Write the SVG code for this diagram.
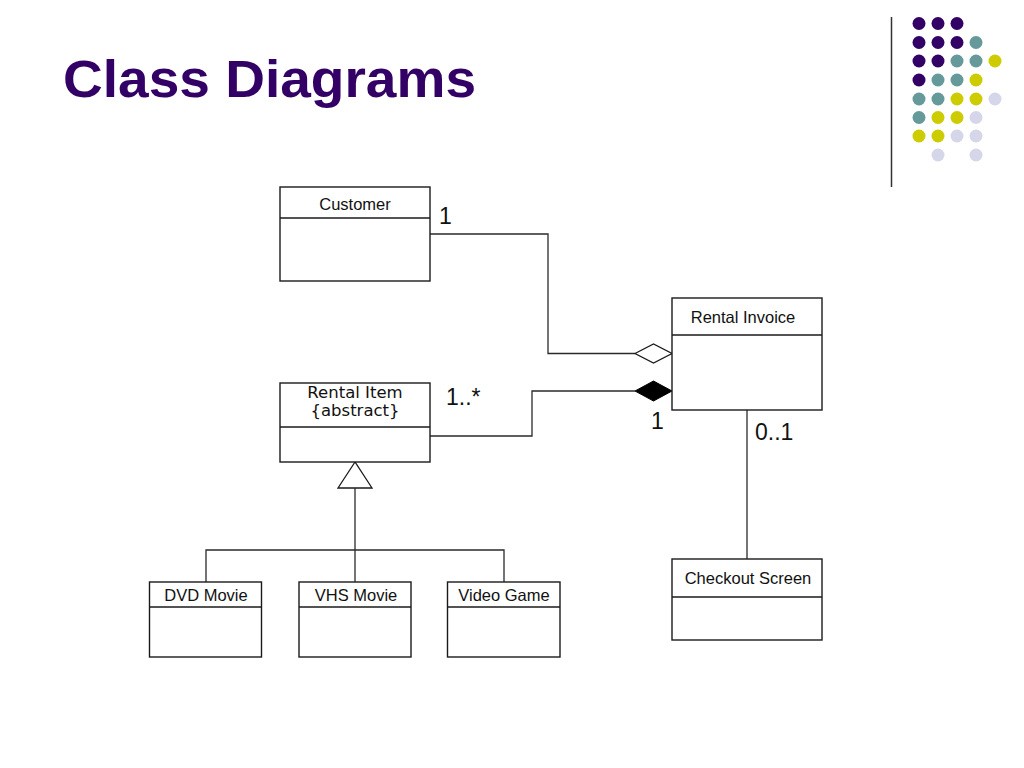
<svg xmlns="http://www.w3.org/2000/svg" width="1024" height="768" viewBox="0 0 1024 768">
<style>
.box{fill:#fff;stroke:#1a1a1a;stroke-width:1.4}
.div{stroke:#1a1a1a;stroke-width:1.4;fill:none}
.ln{stroke:#2a2a2a;stroke-width:1.3;fill:none}
.t{font-family:"Liberation Sans",Arial,sans-serif;font-size:16.5px;fill:#111;text-anchor:middle}
.v{font-family:"DejaVu Sans",Verdana,sans-serif;font-size:16.5px;fill:#111;text-anchor:middle}
.m{font-family:"Liberation Sans",Arial,sans-serif;font-size:23px;fill:#111}
.p{fill:#330066}.g{fill:#669999}.y{fill:#cccc00}.l{fill:#d6d6eb}
</style>
<rect width="1024" height="768" fill="#fff"/>
<text x="63" y="97" font-family="Liberation Sans,Arial,sans-serif" font-weight="bold" font-size="51" fill="#330066" textLength="413" lengthAdjust="spacingAndGlyphs">Class Diagrams</text>
<g id="decor">
<line x1="891.5" y1="17" x2="891.5" y2="187" stroke="#333" stroke-width="1.5"/>
<g>
<circle class="p" cx="919" cy="23.5" r="6.5"/><circle class="p" cx="938" cy="23.5" r="6.5"/><circle class="p" cx="957" cy="23.5" r="6.5"/>
<circle class="p" cx="919" cy="42.5" r="6.5"/><circle class="p" cx="938" cy="42.5" r="6.5"/><circle class="p" cx="957" cy="42.5" r="6.5"/><circle class="g" cx="976" cy="42.5" r="6.5"/>
<circle class="p" cx="919" cy="61" r="6.5"/><circle class="p" cx="938" cy="61" r="6.5"/><circle class="g" cx="957" cy="61" r="6.5"/><circle class="g" cx="976" cy="61" r="6.5"/><circle class="y" cx="995" cy="61" r="6.5"/>
<circle class="p" cx="919" cy="80" r="6.5"/><circle class="g" cx="938" cy="80" r="6.5"/><circle class="g" cx="957" cy="80" r="6.5"/><circle class="y" cx="976" cy="80" r="6.5"/>
<circle class="g" cx="919" cy="99" r="6.5"/><circle class="g" cx="938" cy="99" r="6.5"/><circle class="y" cx="957" cy="99" r="6.5"/><circle class="y" cx="976" cy="99" r="6.5"/><circle class="l" cx="995" cy="99" r="6.5"/>
<circle class="g" cx="919" cy="117.5" r="6.5"/><circle class="y" cx="938" cy="117.5" r="6.5"/><circle class="y" cx="957" cy="117.5" r="6.5"/><circle class="l" cx="976" cy="117.5" r="6.5"/>
<circle class="y" cx="919" cy="136" r="6.5"/><circle class="y" cx="938" cy="136" r="6.5"/><circle class="l" cx="957" cy="136" r="6.5"/><circle class="l" cx="976" cy="136" r="6.5"/>
<circle class="l" cx="938" cy="155" r="6.5"/><circle class="l" cx="976" cy="155" r="6.5"/>
</g>
</g>
<g id="connectors">
<polyline class="ln" points="430,234 548,234 548,353.5 635,353.5"/>
<polygon points="635,353.5 653.5,344 672,353.5 653.5,363" fill="#fff" stroke="#1a1a1a" stroke-width="1.3"/>
<polyline class="ln" points="430,436 532,436 532,391 635,391"/>
<polygon points="635,391 653.5,381 672,391 653.5,401" fill="#000" stroke="#000" stroke-width="1"/>
<line class="ln" x1="747" y1="410" x2="747" y2="559"/>
<polygon points="355,462 338,488 372,488" fill="#fff" stroke="#1a1a1a" stroke-width="1.3"/>
<polyline class="ln" points="355,488 355,582"/>
<polyline class="ln" points="206,582 206,550 504,550 504,582"/>
<text class="m" x="439" y="224">1</text>
<text class="m" x="446" y="405">1..*</text>
<text class="m" x="651" y="429">1</text>
<text class="m" x="755" y="440">0..1</text>
</g>
<g id="customer">
<rect class="box" x="280" y="187" width="150" height="94"/>
<line class="div" x1="280" y1="218" x2="430" y2="218"/>
<text class="t" x="355" y="210">Customer</text>
</g>
<g id="rental-invoice">
<rect class="box" x="672" y="298" width="150" height="112"/>
<line class="div" x1="672" y1="335" x2="822" y2="335"/>
<text class="t" x="743" y="323">Rental Invoice</text>
</g>
<g id="rental-item">
<rect class="box" x="280" y="383" width="150" height="79"/>
<line class="div" x1="280" y1="427" x2="430" y2="427"/>
<text class="v" x="355" y="398">Rental Item</text>
<text class="v" x="355" y="416">{abstract}</text>
</g>
<g id="checkout-screen">
<rect class="box" x="672" y="559" width="150" height="81"/>
<line class="div" x1="672" y1="597" x2="822" y2="597"/>
<text class="t" x="748" y="584">Checkout Screen</text>
</g>
<g id="dvd-movie">
<rect class="box" x="149.5" y="582" width="112" height="75"/>
<line class="div" x1="149.5" y1="607" x2="261.5" y2="607"/>
<text class="t" x="206" y="601">DVD Movie</text>
</g>
<g id="vhs-movie">
<rect class="box" x="299" y="582" width="112" height="75"/>
<line class="div" x1="299" y1="607" x2="411" y2="607"/>
<text class="t" x="356" y="601">VHS Movie</text>
</g>
<g id="video-game">
<rect class="box" x="447.5" y="582" width="112.5" height="75"/>
<line class="div" x1="447.5" y1="607" x2="560" y2="607"/>
<text class="t" x="504" y="601">Video Game</text>
</g>
</svg>
